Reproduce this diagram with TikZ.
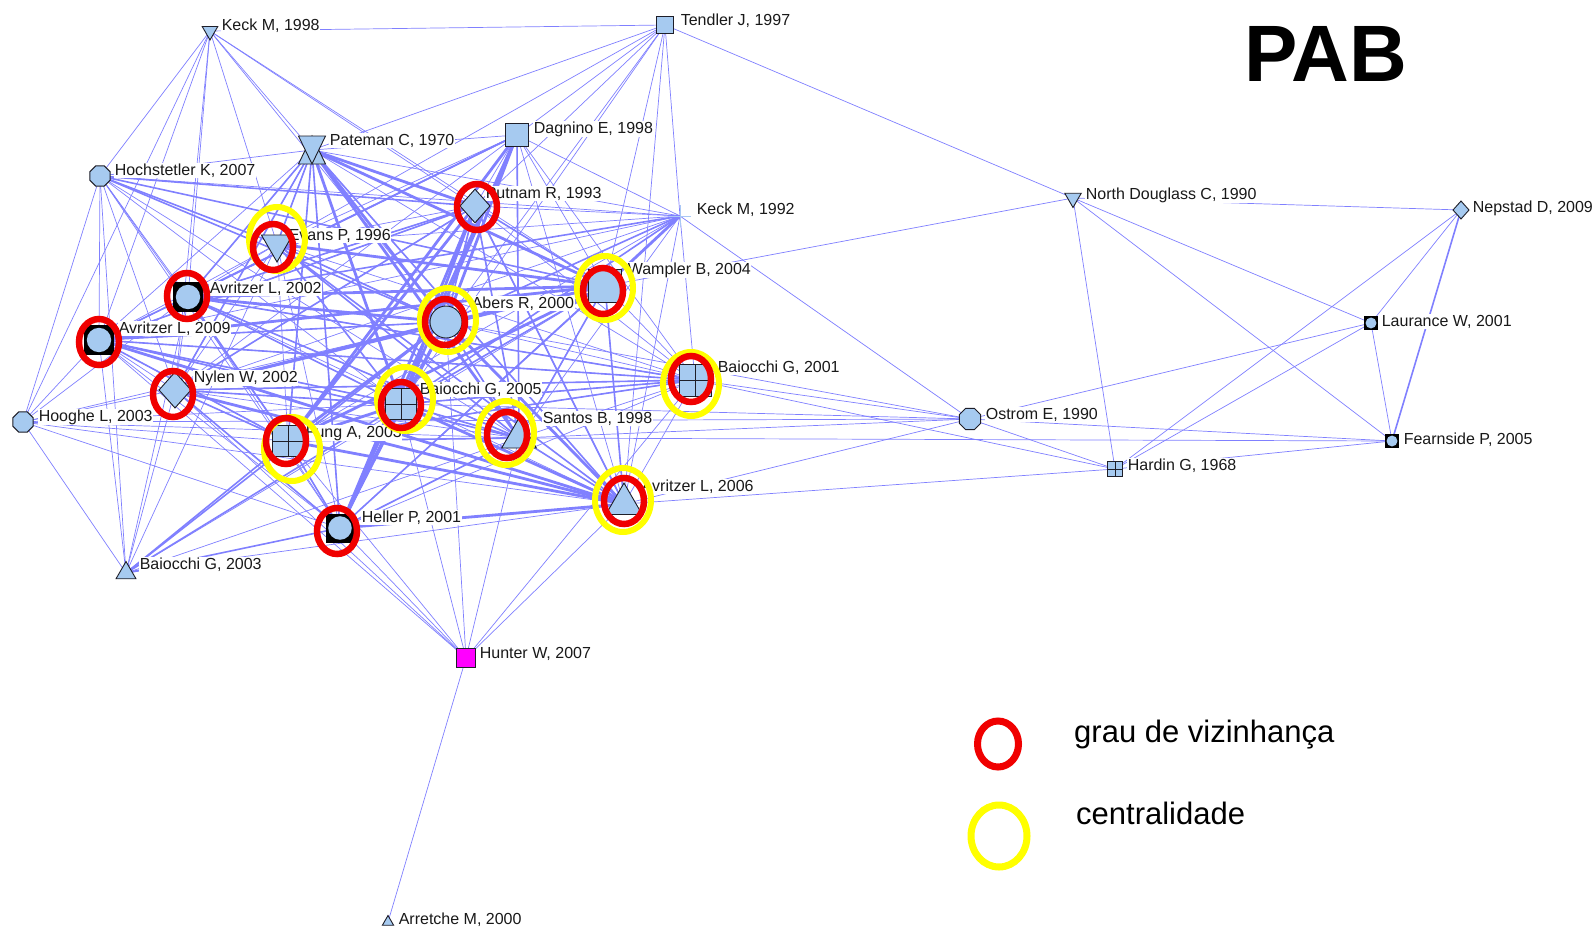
\documentclass[tikz,border=0pt]{standalone}
\usepackage{fontspec}
\setmainfont{Liberation Sans}
\usetikzlibrary{shapes.geometric}
\definecolor{edgec}{RGB}{128,128,255}
\definecolor{nodeblue}{RGB}{166,202,240}
\definecolor{ndline}{RGB}{30,30,40}
\definecolor{ringred}{RGB}{240,0,0}
\definecolor{ringyel}{RGB}{255,255,0}
\definecolor{plusblue}{RGB}{170,200,245}
\definecolor{hunterfill}{RGB}{255,0,255}
\definecolor{labeltext}{RGB}{25,25,25}
\pgfdeclarelayer{edges}
\pgfdeclarelayer{labels}
\pgfsetlayers{edges,labels,main}

\begin{document}
\begin{tikzpicture}[x=1pt,y=-1pt,
  nd/.style={draw=ndline, fill=nodeblue, line width=0.9pt, inner sep=0pt, outer sep=0pt},
  sq/.style={nd, rectangle, minimum size=#1},
  oct/.style={nd, regular polygon, regular polygon sides=8, minimum size=#1},
  dia/.style={nd, diamond, minimum width=#1, minimum height=1.12*#1},
  tup/.style={nd, regular polygon, regular polygon sides=3, minimum size=#1},
  tdn/.style={tup=#1, shape border rotate=180},
  grid/.style={sq=#1, path picture={\draw[ndline, line width=0.9pt]
      (path picture bounding box.north) -- (path picture bounding box.south)
      (path picture bounding box.west) -- (path picture bounding box.east);}},
  blk/.style={nd, rectangle, fill=black, draw=black, minimum size=#1,
      path picture={\fill[nodeblue] (path picture bounding box.center) circle[radius=#1*0.42pt];}},
  hold/.style={rectangle, inner sep=0pt, outer sep=0pt, minimum width=#1, minimum height=#1},
  e1/.style={draw=edgec, line width=0.7pt},
  e2/.style={draw=edgec, line width=1.6pt},
  e3/.style={draw=edgec, line width=2.8pt},
  lbl/.style={font=\fontsize{16}{18}\selectfont, text=labeltext, fill=white, inner sep=0.6pt, anchor=base west},
  redr/.style={ellipse, draw=ringred, line width=6.5pt, minimum width=40, minimum height=46, inner sep=0pt},
  yelr/.style={ellipse, draw=ringyel, line width=6pt, minimum width=56, minimum height=64, inner sep=0pt},
  legtxt/.style={font=\fontsize{31}{36}\selectfont, text=black, anchor=base west, inner sep=0pt}
]
\useasboundingbox (0,0) rectangle (1596,937);
\begin{pgfonlayer}{edges}
  \fill[white] (0,0) rectangle (1596,937);
\end{pgfonlayer}

% ---------- actors ----------
\node[tdn=18] (keckA) at (210,31) {};
\node[sq=17] (tendler) at (665,25) {};
\node[rectangle, inner sep=0pt, outer sep=0pt, minimum width=27, minimum height=28] (pateman) at (312,150) {};
\filldraw[nd] (pateman.south west) -- (pateman.south east) -- (pateman.north) -- cycle;
\filldraw[nd] (pateman.north west) -- (pateman.north east) -- (pateman.south) -- cycle;
\node[sq=23] (dagnino) at (517,135) {};
\node[oct=22] (hoch) at (100,176) {};
\node[dia=30] (putnam) at (475,206) {};
\node[hold=22] (keckB) at (680,216) {};
\draw[plusblue, line width=1pt] (keckB.north) -- (keckB.south) (keckB.west) -- (keckB.east);
\node[tdn=36] (evans) at (277,244) {};
\node[sq=33] (wampler) at (605,286) {};
\node[blk=29] (avrA) at (188,297) {};
\node[nd, circle, minimum size=32] (abers) at (446,322) {};
\node[blk=29] (avrB) at (99,340) {};
\node[grid=32] (baiA) at (695,380) {};
\node[dia=32] (nylen) at (175,390) {};
\node[grid=31] (baiB) at (401,404) {};
\node[oct=22] (hooghe) at (23,422) {};
\node[grid=31] (fung) at (288,441) {};
\node[tup=40] (santos) at (519,438) {};
\node[tup=42] (avrC) at (624,504) {};
\node[blk=28] (heller) at (340,528) {};
\node[tup=23] (baiC) at (126,573) {};
\node[sq=19, fill=hunterfill] (hunter) at (466,658) {};
\node[tup=13] (arretche) at (388,922) {};
\node[tdn=19] (north) at (1073,198) {};
\node[dia=16] (nepstad) at (1461,210) {};
\node[blk=13] (laurance) at (1371,323) {};
\node[oct=23] (ostrom) at (970,419) {};
\node[blk=13] (fearnside) at (1392,441) {};
\node[grid=15] (hardin) at (1115,469) {};

% ---------- citation ties ----------
\begin{pgfonlayer}{edges}
  % the dense core: every pair is tied
  \foreach \a [count=\i] in {pateman,dagnino,putnam,evans,wampler,avrA,abers,avrB,baiA,nylen,baiB,fung,santos,avrC,heller}{
    \foreach \b [count=\j] in {pateman,dagnino,putnam,evans,wampler,avrA,abers,avrB,baiA,nylen,baiB,fung,santos,avrC,heller}{
      \ifnum\j>\i \draw[e1] (\a.center) -- (\b.center);\fi
    }
  }
  % thin ties to the periphery
  \foreach \a/\b in {keckA/tendler, keckA/hoch, keckA/hooghe, keckA/avrB, keckA/avrA, keckA/nylen,
      keckA/evans, keckA/pateman, keckA/abers, keckA/wampler, keckA/putnam,
      tendler/north, tendler/pateman, tendler/evans, tendler/dagnino, tendler/putnam, tendler/abers,
      tendler/wampler, tendler/keckB, tendler/avrC, tendler/baiB,
      hoch/hooghe, hoch/avrB, hoch/avrA, hoch/nylen, hoch/baiC, hoch/pateman, hoch/keckB, hoch/baiB,
      hoch/fung, hoch/heller, hoch/santos,
      hooghe/avrB, hooghe/avrA, hooghe/nylen, hooghe/baiC, hooghe/fung, hooghe/heller, hooghe/baiB,
      hooghe/abers, hooghe/ostrom, hooghe/avrC, hooghe/santos,
      baiC/avrB, baiC/nylen, baiC/evans, baiC/avrA, baiC/wampler, baiC/avrC, baiC/santos,
      hunter/arretche, hunter/avrB, hunter/nylen, hunter/fung, hunter/heller, hunter/baiB, hunter/abers,
      hunter/santos, hunter/avrC, hunter/baiA,
      ostrom/keckB, ostrom/baiA, ostrom/avrC, ostrom/santos, ostrom/baiB, ostrom/laurance,
      ostrom/fearnside, ostrom/hardin, ostrom/abers,
      hardin/north, hardin/nepstad, hardin/laurance, hardin/fearnside, hardin/avrC, hardin/baiA,
      north/wampler, north/nepstad, north/laurance, north/fearnside,
      nepstad/laurance, laurance/fearnside, santos/fearnside,
      keckB/pateman, keckB/putnam, keckB/evans, keckB/dagnino, keckB/nylen, keckB/avrC, keckB/santos,
      keckB/baiA, keckB/fung, keckB/avrB, keckB/heller}
    \draw[e1] (\a.center) -- (\b.center);
  % medium ties
  \foreach \a/\b in {pateman/evans, pateman/avrA, pateman/fung, pateman/heller, pateman/avrC, pateman/nylen,
      dagnino/avrA, dagnino/avrB, dagnino/santos, putnam/avrA, putnam/avrB, putnam/nylen, putnam/wampler,
      putnam/abers, putnam/santos, putnam/avrC, evans/abers, evans/baiB, evans/santos, evans/avrC,
      wampler/avrB, wampler/nylen, wampler/baiB, wampler/heller, wampler/santos, wampler/avrC,
      avrA/baiB, avrA/fung, avrA/santos, avrA/baiA, abers/avrB, abers/santos, abers/heller,
      avrB/baiB, avrB/fung, avrB/santos, baiA/baiB, baiA/fung, baiA/nylen, baiA/avrB,
      nylen/baiB, nylen/fung, nylen/heller, baiB/santos, fung/santos, fung/heller, santos/avrC,
      heller/santos, keckB/avrA, keckB/abers, keckB/baiB, baiC/fung, baiC/heller, baiC/baiB, baiC/abers,
      hoch/abers, hoch/evans, hoch/putnam, hoch/wampler, nepstad/fearnside}
    \draw[e2] (\a.center) -- (\b.center);
  % heavy ties
  \foreach \a/\b in {pateman/putnam, pateman/wampler, pateman/abers, pateman/baiB, pateman/santos,
      dagnino/abers, dagnino/baiB, dagnino/fung, dagnino/heller, putnam/fung, putnam/baiB, putnam/heller,
      evans/wampler, abers/avrA, abers/nylen, abers/baiB, abers/fung, wampler/avrA, wampler/abers,
      wampler/fung, avrC/fung, avrC/nylen, avrC/heller, avrC/baiB, avrC/avrB, avrC/abers,
      keckB/wampler, avrB/wampler, fung/baiB, heller/baiB}
    \draw[e3] (\a.center) -- (\b.center);
\end{pgfonlayer}

% ---------- names ----------
\begin{pgfonlayer}{labels}
  \node[lbl] (l-keckA) at (221,30) {Keck M, 1998};
  \node[lbl] (l-tendler) at (680,25) {Tendler J, 1997};
  \node[lbl] (l-pateman) at (329,145) {Pateman C, 1970};
  \node[lbl] (l-dagnino) at (533,133) {Dagnino E, 1998};
  \node[lbl] (l-hoch) at (114,175) {Hochstetler K, 2007};
  \node[lbl] (l-putnam) at (485,198) {Putnam R, 1993};
  \node[lbl] (l-keckB) at (696,214) {Keck M, 1992};
  \node[lbl] (l-evans) at (288,240) {Evans P, 1996};
  \node[lbl] (l-wampler) at (627,274) {Wampler B, 2004};
  \node[lbl] (l-avrA) at (209,293) {Avritzer L, 2002};
  \node[lbl] (l-abers) at (471,308) {Abers R, 2000};
  \node[lbl] (l-avrB) at (118,333) {Avritzer L, 2009};
  \node[lbl] (l-baiA) at (717,372) {Baiocchi G, 2001};
  \node[lbl] (l-nylen) at (193,382) {Nylen W, 2002};
  \node[lbl] (l-baiB) at (419,394) {Baiocchi G, 2005};
  \node[lbl] (l-hooghe) at (38,421) {Hooghe L, 2003};
  \node[lbl] (l-fung) at (305,437) {Fung A, 2003};
  \node[lbl] (l-santos) at (542,423) {Santos B, 1998};
  \node[lbl] (l-avrC) at (641,491) {Avritzer L, 2006};
  \node[lbl] (l-heller) at (361,522) {Heller P, 2001};
  \node[lbl] (l-baiC) at (139,569) {Baiocchi G, 2003};
  \node[lbl] (l-hunter) at (479,658) {Hunter W, 2007};
  \node[lbl] (l-arretche) at (398,924) {Arretche M, 2000};
  \node[lbl] (l-north) at (1085,199) {North Douglass C, 1990};
  \node[lbl] (l-nepstad) at (1472,212) {Nepstad D, 2009};
  \node[lbl] (l-laurance) at (1381,326) {Laurance W, 2001};
  \node[lbl] (l-ostrom) at (985,419) {Ostrom E, 1990};
  \node[lbl] (l-fearnside) at (1403,444) {Fearnside P, 2005};
  \node[lbl] (l-hardin) at (1127,470) {Hardin G, 1968};
\end{pgfonlayer}

% ---------- highlight rings ----------
\node[yelr] (y-evans) at (277,239) {};
\node[yelr] (y-wampler) at (605,288) {};
\node[yelr] (y-abers) at (448,320) {};
\node[yelr] (y-baiA) at (691,384) {};
\node[yelr] (y-baiB) at (405,399) {};
\node[yelr] (y-fung) at (292,449) {};
\node[yelr] (y-santos) at (506,433) {};
\node[yelr] (y-avrC) at (623,500) {};

\node[redr] (r-putnam) at (477,207) {};
\node[redr] (r-evans) at (273,247) {};
\node[redr] (r-wampler) at (603,291) {};
\node[redr] (r-avrA) at (187,296) {};
\node[redr] (r-abers) at (445,322) {};
\node[redr] (r-avrB) at (99,342) {};
\node[redr] (r-baiA) at (691,379) {};
\node[redr] (r-nylen) at (173,394) {};
\node[redr] (r-baiB) at (401,405) {};
\node[redr] (r-fung) at (286,441) {};
\node[redr] (r-santos) at (507,435) {};
\node[redr] (r-avrC) at (624,501) {};
\node[redr] (r-heller) at (337,531) {};

% ---------- title and key ----------
\node[font=\bfseries\fontsize{80}{90}\selectfont, anchor=base west, inner sep=0pt] (title) at (1244,81) {PAB};
\node[redr, line width=7pt, minimum width=41, minimum height=46] (key-red) at (998,744) {};
\node[yelr, line width=7pt, minimum width=56, minimum height=62] (key-yel) at (999,836) {};
\node[legtxt] (key-red-txt) at (1074,742) {grau de vizinhança};
\node[legtxt] (key-yel-txt) at (1076,824) {centralidade};
\end{tikzpicture}
\end{document}
